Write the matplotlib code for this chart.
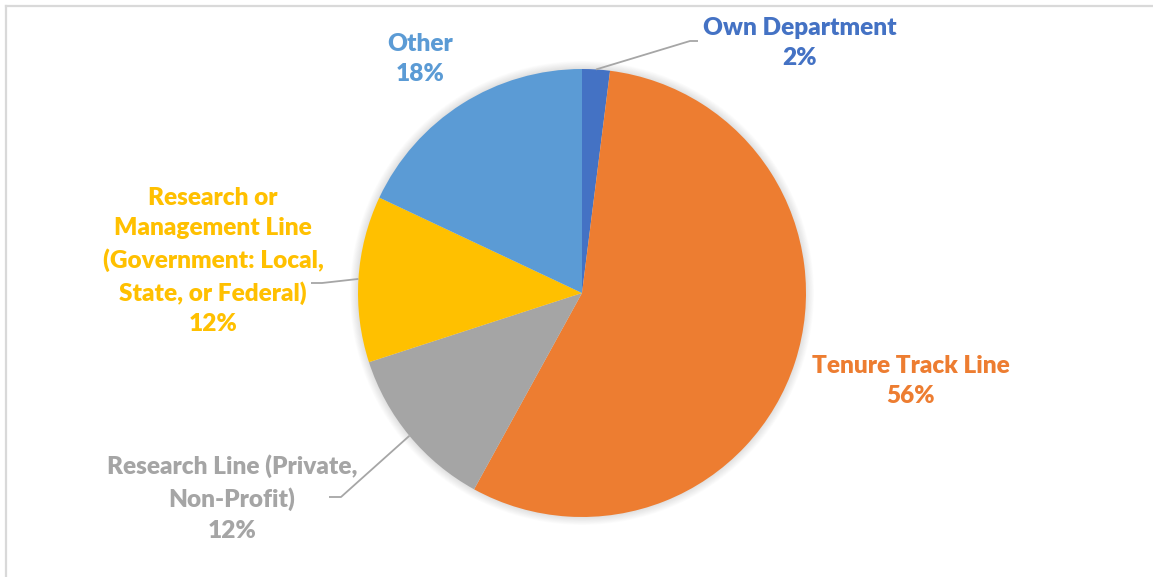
import numpy as np
import matplotlib.pyplot as plt
from matplotlib.patches import Circle

W, H = 1153, 577

labels = ["Own Department", "Tenure Track Line", "Research Line (Private,\nNon-Profit)",
          "Research or\nManagement Line\n(Government: Local,\nState, or Federal)", "Other"]
shares = [2, 56, 12, 12, 18]
colors = ["#4472C4", "#ED7D31", "#A5A5A5", "#FFC000", "#5B9BD5"]

# where the label blocks sit (pixel coords from the top-left), and which get leader lines
label_pos = [(800, 43), (911, 381), (232, 498), (213, 261), (420, 59)]
leader_elbow = [(690, 41), None, (341, 497), (322, 283), None]
leader_end = [(698, 41), None, (329, 497), (311, 283), None]

cx, cy, r = 582, 293, 224

fig = plt.figure(figsize=(W / 100, H / 100), dpi=100)
ax = fig.add_axes([0, 0, 1, 1])

def fy(y):
    return H - y

# soft glow under the pie
for i in range(10, 0, -1):
    ax.add_patch(Circle((cx, fy(cy)), r + i * 0.8, color="black", alpha=0.012, lw=0, zorder=1))

wedges, _ = ax.pie(shares, colors=colors, startangle=90, counterclock=False,
                   center=(cx, fy(cy)), radius=r, frame=True,
                   wedgeprops=dict(linewidth=0, zorder=2))
ax.set_xlim(0, W)
ax.set_ylim(0, H)
ax.axis("off")

for w, lab, val, col, pos, el, en in zip(wedges, labels, shares, colors,
                                         label_pos, leader_elbow, leader_end):
    ax.text(pos[0], fy(pos[1]), f"{lab}\n{val}%", color=col, ha="center", va="center",
            fontsize=17.6, fontweight="heavy", family="Lato", linespacing=1.47, zorder=5)
    if el is not None:
        mid = np.deg2rad((w.theta1 + w.theta2) / 2)
        sx, sy = cx + r * np.cos(mid), fy(cy) + r * np.sin(mid)
        ax.plot([sx, el[0], en[0]], [sy, fy(el[1]), fy(en[1])], color="#A6A6A6",
                lw=1.3, zorder=4, solid_capstyle="butt")

# chart area border (top and left edges)
ax.plot([5.5, W], [fy(5.5), fy(5.5)], color="#D9D9D9", lw=1.6, zorder=6)
ax.plot([5.5, 5.5], [fy(5.5), 0], color="#D9D9D9", lw=1.6, zorder=6)

fig.savefig("out.png", dpi=100, facecolor="white")
